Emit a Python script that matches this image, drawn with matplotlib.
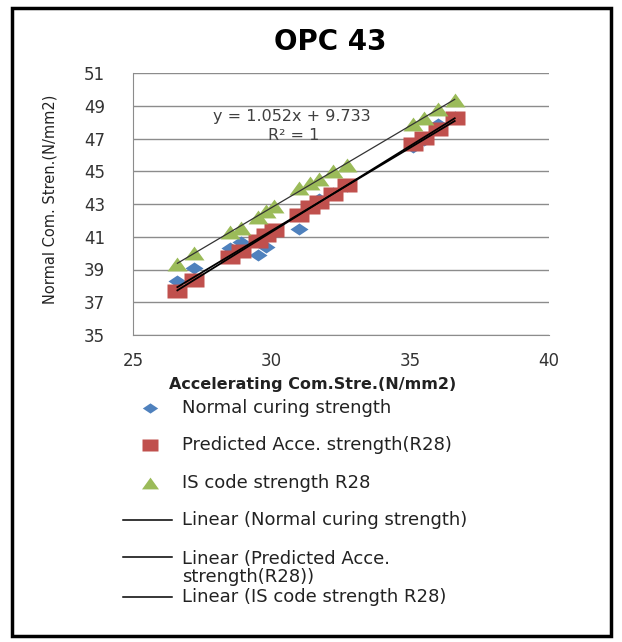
import numpy as np
import matplotlib
matplotlib.use("Agg")
import matplotlib.pyplot as plt
from matplotlib.lines import Line2D
from matplotlib.patches import Rectangle

# data
accel = [26.6, 27.2, 28.5, 28.9, 29.5, 29.8, 30.1, 31.0, 31.4, 31.7, 32.2, 32.7, 35.1, 35.5, 36.0, 36.6]
normal = [38.3, 39.1, 40.3, 40.7, 39.9, 40.4, 41.3, 41.5, 42.9, 43.3, 43.7, 44.1, 46.5, 46.9, 47.9, 48.3]
predicted = [37.7, 38.35, 39.75, 40.15, 40.75, 41.1, 41.4, 42.35, 42.8, 43.1, 43.6, 44.15, 46.65, 47.05, 47.6, 48.25]
is_code = [39.35, 40.0, 41.3, 41.55, 42.2, 42.6, 42.9, 43.95, 44.3, 44.5, 45.0, 45.4, 47.9, 48.25, 48.8, 49.35]

names = ["Normal curing strength", "Predicted Acce. strength(R28)", "IS code strength R28"]
colors = ["#4F81BD", "#C0504D", "#9BBB59"]
xticks = [25, 30, 35, 40]
yticks = list(range(35, 52, 2))

# stretched markers like the excel export
diamond = [(0, 0.5), (0.75, 0), (0, -0.5), (-0.75, 0)]
square = [(-0.68, -0.5), (0.68, -0.5), (0.68, 0.5), (-0.68, 0.5)]
triangle = [(-0.72, -0.5), (0.72, -0.5), (0, 0.5)]
markers = [(diamond, 13), (square, 13.7), (triangle, 14.4)]

W, H = 622, 642
fig = plt.figure(figsize=(W / 100, H / 100), dpi=100)
ax = fig.add_axes([133 / W, 1 - 335 / H, (549 - 133) / W, (335 - 73) / H])

series = [normal, predicted, is_code]
for ys, name, c, (m, ms) in zip(series, names, colors, markers):
    ax.plot(accel, ys, linestyle="none", marker=m, markersize=ms,
            markerfacecolor=c, markeredgecolor="none", zorder=3)

# linear trendlines
lw = [1.3, 1.3, 0.9]
lc = ["black", "black", "#333333"]
for ys, w, c in zip(series, lw, lc):
    k, b = np.polyfit(accel, ys, 1)
    xx = np.array([min(accel), max(accel)])
    ax.plot(xx, k * xx + b, color=c, linewidth=w, zorder=4)

ax.set_xlim(25, 40)
ax.set_ylim(35, 51)
ax.set_xticks(xticks)
ax.set_yticks(yticks)
ax.grid(axis="y", color="#8c8c8c", linewidth=1)
ax.set_axisbelow(True)
for s in ["top", "right"]:
    ax.spines[s].set_visible(False)
for s in ["left", "bottom"]:
    ax.spines[s].set_color("#8c8c8c")
ax.tick_params(length=0, labelsize=12, labelcolor="#333333")
ax.tick_params(axis="y", pad=20)
ax.tick_params(axis="x", pad=12)

ax.set_xlabel("Accelerating Com.Stre.(N/mm2)", fontsize=11.5, fontweight="bold",
              color="#222222", va="center")
ax.xaxis.set_label_coords((313 - 133) / 416, (335 - 384) / 262)
ax.set_ylabel("Normal Com. Stren.(N/mm2)", fontsize=10.5, color="#222222", va="center")
ax.yaxis.set_label_coords((50 - 133) / 416, (335 - 199) / 262)

ax.text(292 / W, 1 - 116 / H, "y = 1.052x + 9.733", transform=fig.transFigure,
        ha="center", va="center", fontsize=11.5, color="#404040")
ax.text(294 / W, 1 - 135 / H, "R² = 1", transform=fig.transFigure,
        ha="center", va="center", fontsize=11.5, color="#404040")

fig.text(330 / W, 1 - 42 / H, "OPC 43", ha="center", va="center",
         fontsize=20, fontweight="bold", color="black")

# legend drawn by hand to copy excel spacing
leg_y = [408, 445, 483]
for (m, ms), c, name, y in zip(markers, colors, names, leg_y):
    fig.add_artist(Line2D([150 / W], [1 - y / H], marker=m, markersize=ms * 0.85,
                          markerfacecolor=c, markeredgecolor="none", linestyle="none"))
    fig.text(182 / W, 1 - y / H, name, ha="left", va="center", fontsize=13, color="#222222")

lin_labels = ["Linear (Normal curing strength)", "Linear (Predicted Acce.\nstrength(R28))",
              "Linear (IS code strength R28)"]
lin_y = [520, 557, 597]
for lab, y in zip(lin_labels, lin_y):
    fig.add_artist(Line2D([123 / W, 172 / W], [1 - y / H, 1 - y / H], color="black", linewidth=1.1))
    ty = y if "\n" not in lab else (557 + 579) / 2
    fig.text(182 / W, 1 - ty / H, lab, ha="left", va="center", fontsize=13,
             color="#222222", linespacing=1.0)

fig.add_artist(Rectangle((12 / W, 1 - 636 / H), (611 - 12) / W, (636 - 8) / H,
                         transform=fig.transFigure, fill=False, edgecolor="black", linewidth=2.5))

fig.savefig("out.png", dpi=100)
